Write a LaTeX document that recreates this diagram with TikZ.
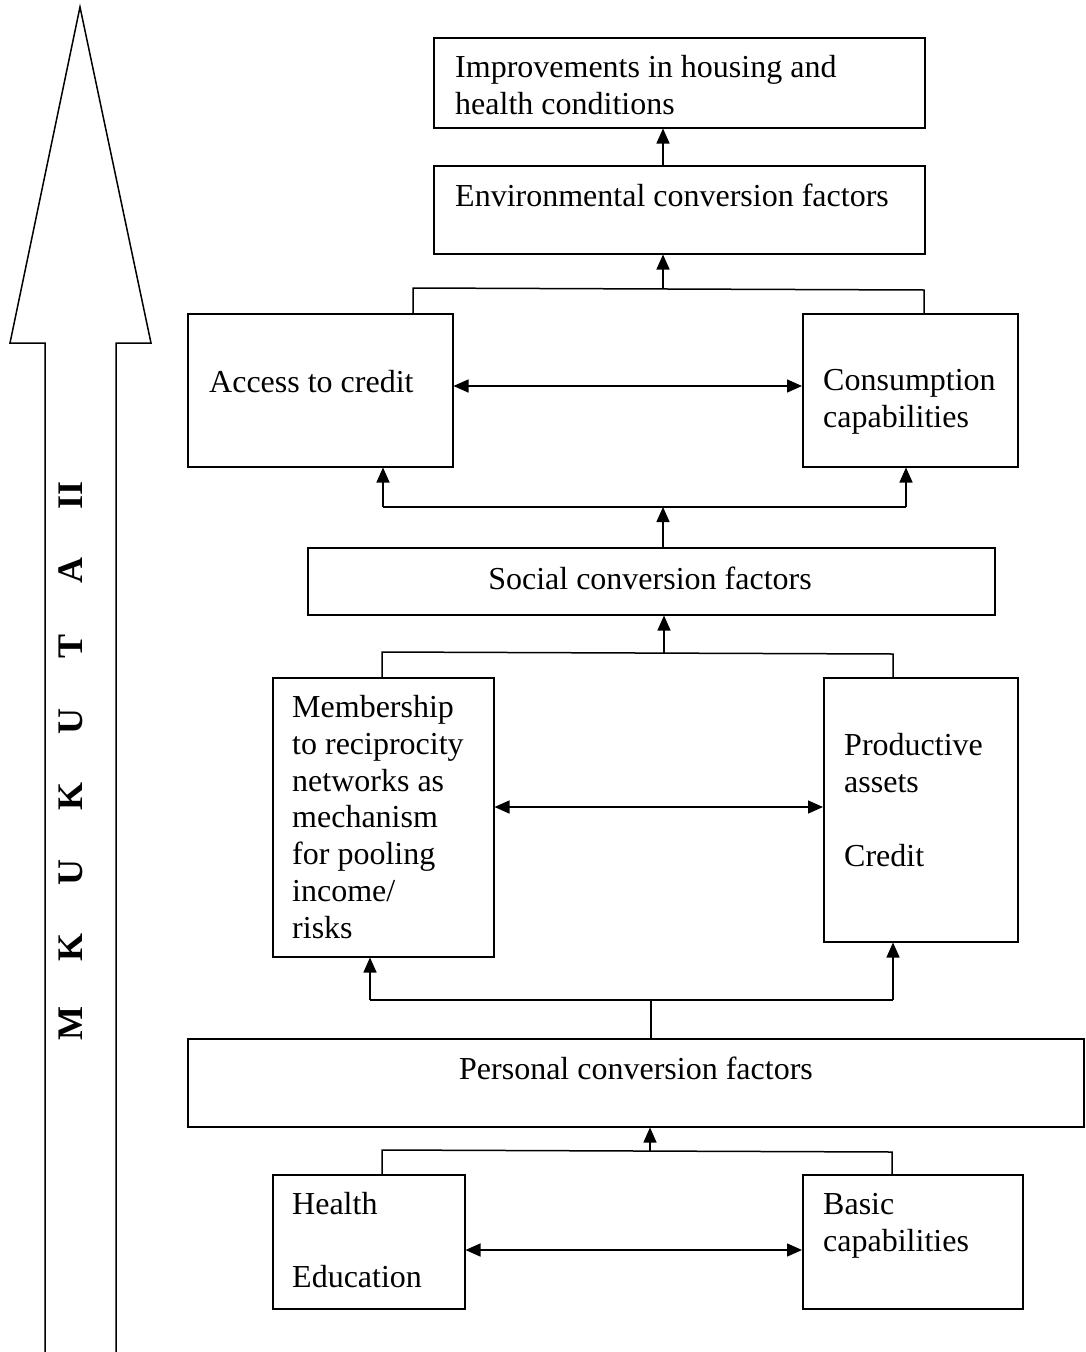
\documentclass[tikz,border=0pt]{standalone}
\usepackage{fontspec}
\setmainfont{Liberation Serif}
\usetikzlibrary{arrows.meta}
\begin{document}
\begin{tikzpicture}[x=1pt,y=-1pt,
  box/.style={draw, line width=1.5pt, inner sep=0pt, anchor=north west},
  txt/.style={font=\fontsize{32}{36.8}\selectfont, align=left, inner sep=0pt, anchor=west},
  ctxt/.style={font=\fontsize{32}{36.8}\selectfont, inner sep=0pt},
  conn/.style={line width=1.5pt},
  arr/.style={line width=1.5pt, -{Triangle[width=13pt,length=15pt]}},
  darr/.style={line width=1.5pt, {Triangle[width=13pt,length=15pt]}-{Triangle[width=13pt,length=15pt]}},
  letter/.style={font=\fontsize{36}{40}\selectfont\bfseries, rotate=90, inner sep=0pt}]
\useasboundingbox (0,0) rectangle (1085,1352);

% big upward arrow
\draw[line width=1.5pt, line join=miter] (45,1352) -- (45,343) -- (10,343) -- (80,7) -- (151,343) -- (116,343) -- (116,1352);
\foreach \l [count=\i from 0] in {M,K,U,K,U,T,A,II}
  \node[letter] (mk\i) at (71,{1023-75.4*\i}) {\l};

% boxes
\node[box, minimum width=491pt, minimum height=90pt] (impr) at (433,37) {};
\node[box, minimum width=491pt, minimum height=88pt] (env) at (433,165) {};
\node[box, minimum width=265pt, minimum height=153pt] (acc) at (187,313) {};
\node[box, minimum width=215pt, minimum height=153pt] (con) at (802,313) {};
\node[box, minimum width=687pt, minimum height=67pt] (soc) at (307,547) {};
\node[box, minimum width=221pt, minimum height=279pt] (mem) at (272,677) {};
\node[box, minimum width=194pt, minimum height=264pt] (prod) at (823,677) {};
\node[box, minimum width=896pt, minimum height=88pt] (pers) at (187,1038) {};
\node[box, minimum width=192pt, minimum height=134pt] (hlt) at (272,1174) {};
\node[box, minimum width=220pt, minimum height=134pt] (bas) at (802,1174) {};

% texts
\node[txt] (t-impr) at (455,85) {Improvements in housing and\\health conditions};
\node[txt] (t-env) at (455,195) {Environmental conversion factors};
\node[txt] (t-acc) at (209,382) {Access to credit};
\node[txt] (t-con) at (823,402) {Consumption\\capabilities};
\node[ctxt] (t-soc) at (650,578) {Social conversion factors};
\node[txt] (t-mem) at (292,817) {Membership\\to reciprocity\\networks as\\mechanism\\for pooling\\income/\\risks};
\node[txt] (t-prod) at (844,800) {Productive\\assets\\\mbox{}\\Credit};
\node[ctxt] (t-pers) at (636,1068) {Personal conversion factors};
\node[txt] (t-hlt) at (292,1240) {Health\\\mbox{}\\Education};
\node[txt] (t-bas) at (823,1226) {Basic\\capabilities};

% junction points
\coordinate (j1) at (663,289);
\coordinate (j1l) at (413,288);
\coordinate (j1r) at (924,290);
\coordinate (j2) at (663,507);
\coordinate (j2l) at (383,507);
\coordinate (j2r) at (906,507);
\coordinate (j3) at (664,653);
\coordinate (j3l) at (382,652);
\coordinate (j3r) at (893,654);
\coordinate (j4) at (651,1000);
\coordinate (j4l) at (370,1000);
\coordinate (j4r) at (893,1000);
\coordinate (j5) at (650,1151);
\coordinate (j5l) at (382,1150);
\coordinate (j5r) at (892,1152);
\coordinate (h5) at (0,1250);

% connectors
\draw[arr] (j1 |- env.north) -- (j1 |- impr.south);
\draw[arr] (j1) -- (j1 |- env.south);
\draw[conn] (j1l |- acc.north) -- (j1l) -- (j1r) -- (j1r |- con.north);
\draw[darr] (acc.east |- 0,386) -- (con.west |- 0,386);
\draw[arr] (j2l) -- (j2l |- acc.south);
\draw[arr] (j2r) -- (j2r |- con.south);
\draw[conn] (j2l) -- (j2r);
\draw[arr] (j2 |- soc.north) -- (j2);
\draw[arr] (j3) -- (j3 |- soc.south);
\draw[conn] (j3l |- mem.north) -- (j3l) -- (j3r) -- (j3r |- prod.north);
\draw[darr] (mem.east |- 0,807) -- (prod.west |- 0,807);
\draw[arr] (j4l) -- (j4l |- mem.south);
\draw[arr] (j4r) -- (j4r |- prod.south);
\draw[conn] (j4l) -- (j4r);
\draw[conn] (j4 |- pers.north) -- (j4);
\draw[arr] (j5) -- (j5 |- pers.south);
\draw[conn] (j5l |- hlt.north) -- (j5l) -- (j5r) -- (j5r |- bas.north);
\draw[darr] (hlt.east |- h5) -- (bas.west |- h5);
\end{tikzpicture}
\end{document}
